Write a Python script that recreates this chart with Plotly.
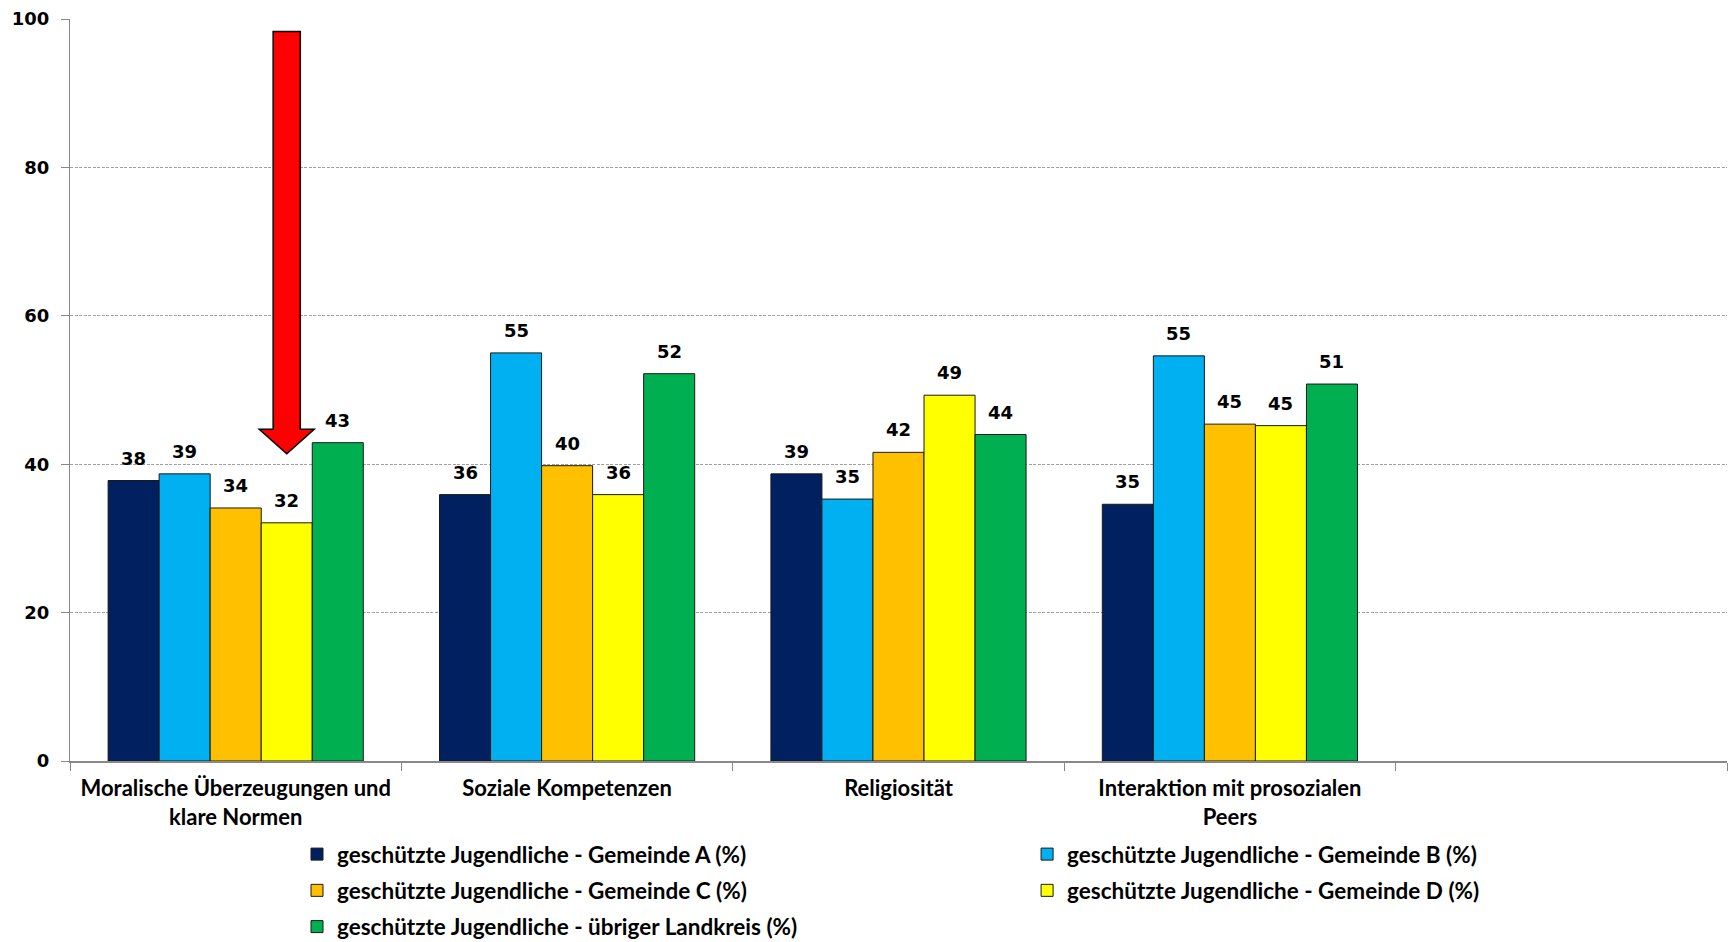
import plotly.graph_objects as go

categories = ["Moralische Überzeugungen und<br>klare Normen", "Soziale Kompetenzen",
              "Religiosität", "Interaktion mit prosozialen<br>Peers", " "]
series_names = [
    "geschützte Jugendliche - Gemeinde A (%)",
    "geschützte Jugendliche - Gemeinde B (%)",
    "geschützte Jugendliche - Gemeinde C (%)",
    "geschützte Jugendliche - Gemeinde D (%)",
    "geschützte Jugendliche - übriger Landkreis (%)",
]
gemeinde_a = [37.8, 35.9, 38.7, 34.6]
gemeinde_b = [38.7, 55.0, 35.3, 54.6]
gemeinde_c = [34.1, 39.8, 41.6, 45.4]
gemeinde_d = [32.1, 35.9, 49.3, 45.2]
landkreis = [42.9, 52.2, 44.0, 50.8]
series_values = [gemeinde_a, gemeinde_b, gemeinde_c, gemeinde_d, landkreis]
colors = ["#002060", "#00B0F0", "#FFC000", "#FFFF00", "#00B050"]
legend_ids = ["legend", "legend2", "legend", "legend2", "legend"]
y_ticks = [0, 20, 40, 60, 80, 100]

label_font = "Lato, Open Sans, sans-serif"
num_font = "DejaVu Sans, Verdana, sans-serif"

BARGAP = 0.23
n = len(series_values)
bw = (1 - BARGAP) / n

fig = go.Figure()
for k, (name, vals, col, lg) in enumerate(zip(series_names, series_values, colors, legend_ids)):
    fig.add_trace(go.Bar(
        x=categories[:len(vals)], y=vals, name=name, legend=lg, legendgroup=f"g{k}",
        marker=dict(color=col, line=dict(color="#1a1a1a", width=1)),
    ))

annotations = []
for j, vals in enumerate(series_values):
    for i, v in enumerate(vals):
        annotations.append(dict(
            x=i + (j - (n - 1) / 2) * bw, y=v, xref="x", yref="y",
            text=f"<b>{round(v)}</b>", showarrow=False, yanchor="bottom",
            yshift=10, font=dict(family=num_font, size=18, color="black"),
        ))

# red highlight arrow above the Gemeinde D bar of the first category
ax_c = 0 + (3 - (n - 1) / 2) * bw
sw = 0.041
hw = 0.083
arrow_path = (f"M{ax_c - sw},98.3 L{ax_c + sw},98.3 L{ax_c + sw},44.7 L{ax_c + hw},44.7 "
              f"L{ax_c},41.4 L{ax_c - hw},44.7 L{ax_c - sw},44.7 Z")

legend_font = dict(family=label_font, size=22.5, color="black", weight="bold")

fig.update_layout(
    width=1733, height=942,
    margin=dict(l=70, r=6, t=19, b=181, autoexpand=False),
    paper_bgcolor="white", plot_bgcolor="white",
    barmode="group", bargap=BARGAP, bargroupgap=0,
    annotations=annotations,
    shapes=[dict(type="path", path=arrow_path, xref="x", yref="y",
                 fillcolor="#FF0000", line=dict(color="black", width=1.5))],
    xaxis=dict(
        type="category", categoryorder="array", categoryarray=categories,
        range=[-0.5, len(categories) - 0.5],
        tickson="boundaries", ticks="outside", ticklen=8, tickcolor="#888888",
        showline=True, linecolor="#888888", linewidth=1.5,
        showgrid=False, ticklabelstandoff=7,
        tickfont=dict(family=label_font, size=22, color="black", weight="bold"),
    ),
    yaxis=dict(
        range=[0, 100], tickvals=y_ticks, ticks="outside", ticklen=8,
        tickcolor="#888888", showline=True, linecolor="#888888", linewidth=1,
        showgrid=True, gridcolor="#A0A0A0", griddash="3px,1.5px", gridwidth=1,
        zeroline=False, ticklabelstandoff=8,
        tickfont=dict(family=num_font, size=18, color="black", weight="bold"),
    ),
    legend=dict(
        orientation="v", x=0.137, xanchor="left", y=-0.097, yanchor="top",
        font=legend_font, tracegroupgap=4, bgcolor="rgba(0,0,0,0)",
    ),
    legend2=dict(
        orientation="v", x=0.5776, xanchor="left", y=-0.097, yanchor="top",
        font=legend_font, tracegroupgap=4, bgcolor="rgba(0,0,0,0)",
    ),
    showlegend=True,
)

fig.write_html("out.html")
